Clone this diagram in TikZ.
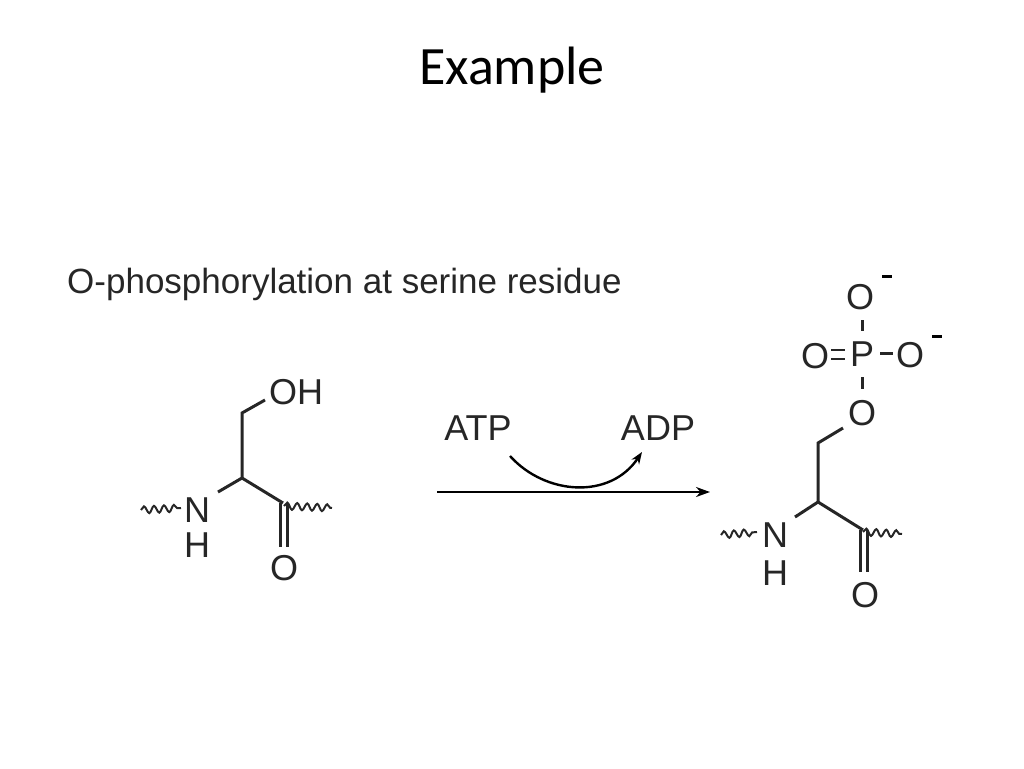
\documentclass[tikz,border=0pt]{standalone}
\usepackage{fontspec}
\setmainfont{Liberation Sans}
\newfontfamily\titlefont{Carlito}
\usetikzlibrary{arrows.meta,decorations.pathmorphing}
\begin{document}
\begin{tikzpicture}[x=1pt,y=-1pt,
  bond/.style={line width=3pt,draw=black!85},
  wavy/.style={line width=2pt,draw=black!85,decorate,decoration={snake,amplitude=3.5pt,segment length=10pt}},
  atom/.style={font=\fontsize{36}{36}\selectfont,inner sep=0pt,text=black!85},
  lbl/.style={font=\fontsize{36}{36}\selectfont,inner sep=0pt,text=black!85}]
\useasboundingbox (0,0) rectangle (1024,768);
\node[font=\titlefont\fontsize{54}{54}\selectfont] (title) at (512,70) {Example};
\node[lbl,anchor=west] (sub) at (67,284) {\fontsize{35}{35}\selectfont O-phosphorylation at serine residue};
% left molecule
\node[atom] (oh) at (296,392) {OH};
\node[atom] (n1) at (197,510) {N};
\node[atom] (h1) at (197,545) {H};
\node[atom] (o1) at (284,568) {O};
\coordinate (cb1) at (242,413);
\coordinate (ca1) at (242,478);
\coordinate (cc1) at (283,503);
\draw[bond] (265,400) -- (cb1) -- (ca1) -- (218,492);
\draw[bond] (ca1) -- (cc1);
\draw[bond] (280,503) -- (280,547) (287,503) -- (287,547);
\draw[wavy] (141,510) -- (181,508);
\draw[wavy] (284,506) -- (332,508);
% arrow
\node[lbl] (atp) at (478,428) {ATP};
\node[lbl] (adp) at (658,428) {ADP};
\coordinate (a0) at (437,492);
\coordinate (a1) at (710,492);
\draw[line width=2.4pt,-{Stealth[length=14pt,width=10pt]}] (a0) -- (a1);
\draw[line width=2.4pt,-{Stealth[length=12pt,width=9pt]}] (510,456) .. controls (545,495) and (610,500) .. (642,452);
% right molecule
\node[atom] (ot) at (860,297) {O};
\node[atom] (p) at (862,354) {P};
\node[atom] (ol) at (815,356) {O};
\node[atom] (or) at (910,355) {O};
\node[atom] (ob) at (862,413) {O};
\node[atom] (n2) at (775,535) {N};
\node[atom] (h2) at (775,573) {H};
\node[atom] (o2) at (865,595) {O};
\draw[line width=3pt] (882,276) -- (892,276);
\draw[line width=3pt] (932,336) -- (942,336);
\draw[bond] (862,320) -- (862,331);
\draw[bond] (862,377) -- (862,389);
\draw[bond] (880,353) -- (893,353);
\draw[bond,line width=2.6pt] (831,350) -- (845,350) (831,359) -- (845,359);
\coordinate (cb2) at (818,443);
\coordinate (ca2) at (818,502);
\coordinate (cc2) at (863,530);
\draw[bond] (843,428) -- (cb2) -- (ca2) -- (795,517);
\draw[bond] (ca2) -- (cc2);
\draw[bond] (860,530) -- (860,572) (867,530) -- (867,572);
\draw[wavy] (721,535) -- (757,532);
\draw[wavy] (863,532) -- (902,534);
\end{tikzpicture}
\end{document}
